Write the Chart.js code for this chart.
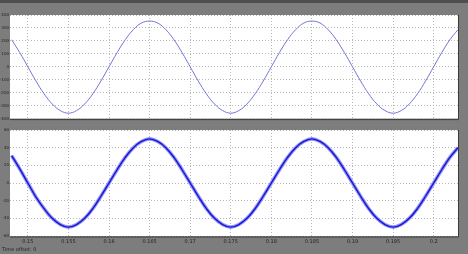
<!DOCTYPE html>
<html>
<head>
<meta charset="utf-8">
<script src="https://cdn.jsdelivr.net/npm/chart.js@4/dist/chart.umd.min.js"></script>
<style>
  html, body { margin: 0; padding: 0; background: #7d7d7d; width: 468px; height: 254px; overflow: hidden; }
  #topbar { position: absolute; left: 0; top: 0; width: 468px; height: 3px; background: #4e4e4e; }
  #c1 { position: absolute; left: 0; top: 0; }
  #c2 { position: absolute; left: 0; top: 122px; }
  #note { position: absolute; left: 2px; top: 246px; font: 5px "DejaVu Sans", sans-serif; color: #222; white-space: nowrap; }
</style>
</head>
<body>
<div id="topbar"></div>
<canvas id="c1" width="468" height="122"></canvas>
<canvas id="c2" width="468" height="132"></canvas>
<div id="note">Time offset: 0</div>
<script>
// time (s)
const times = [0.148,0.149,0.150,0.151,0.152,0.153,0.154,0.155,0.156,0.157,0.158,0.159,0.160,0.161,0.162,0.163,0.164,0.165,0.166,0.167,0.168,0.169,0.170,0.171,0.172,0.173,0.174,0.175,0.176,0.177,0.178,0.179,0.180,0.181,0.182,0.183,0.184,0.185,0.186,0.187,0.188,0.189,0.190,0.191,0.192,0.193,0.194,0.195,0.196,0.197,0.198,0.199,0.200,0.201,0.202,0.203];
// upper trace (voltage)
const voltage = [209,110,0,-110,-209,-287,-338,-358,-338,-287,-209,-110,0,110,209,287,338,353,338,287,209,110,0,-110,-209,-287,-338,-358,-338,-287,-209,-110,0,110,209,287,338,353,338,287,209,110,0,-110,-209,-287,-338,-358,-338,-287,-209,-110,0,110,209,287];
// lower trace (current)
const current = [31,16,0,-16,-29,-40,-47,-50,-47,-40,-29,-15,0,15,29,40,47,50,47,40,29,15,0,-15,-29,-40,-47,-50,-47,-40,-29,-15,0,15,29,40,47,50,47,40,29,15,0,-15,-29,-40,-47,-50,-47,-40,-29,-15,0,15,29,40];
// ticks
const xTicks = [0.15,0.155,0.16,0.165,0.17,0.175,0.18,0.185,0.19,0.195,0.2];
const xTickLabels = ['0.15','0.155','0.16','0.165','0.17','0.175','0.18','0.185','0.19','0.195','0.2'];
const yTicksTop = [-400,-300,-200,-100,0,100,200,300,400];
const yTicksBottom = [-60,-40,-20,0,20,40,60];

const xMin = 0.1478, xMax = 0.2030;

const plotBg = {
  id: 'plotBg',
  beforeDraw(chart) {
    const {ctx, chartArea: a} = chart;
    ctx.save();
    ctx.fillStyle = '#ffffff';
    ctx.fillRect(a.left, a.top, a.right - a.left, a.bottom - a.top);
    ctx.restore();
  },
  afterDraw(chart) {
    const {ctx, chartArea: a} = chart;
    ctx.save();
    ctx.strokeStyle = '#3c3c3c';
    ctx.lineWidth = 1;
    ctx.beginPath();
    ctx.moveTo(a.right + 0.5, a.top);
    ctx.lineTo(a.right + 0.5, a.bottom + 1);
    ctx.lineTo(a.left, a.bottom + 1);
    ctx.stroke();
    ctx.restore();
  }
};

function pts(ys) { return times.map((t, i) => ({x: t, y: ys[i]})); }

function makeOpts(yTicks, ymin, ymax, showX, padTop, padBottom) {
  return {
    responsive: false,
    animation: false,
    events: [],
    layout: { padding: { left: 0, right: 10, top: padTop, bottom: padBottom } },
    plugins: { legend: { display: false }, tooltip: { enabled: false } },
    elements: { point: { radius: 0 } },
    scales: {
      x: {
        type: 'linear', min: xMin, max: xMax,
        afterBuildTicks: ax => { ax.ticks = xTicks.map(v => ({value: v})); },
        afterFit: ax => { ax.height = showX ? 18 : 0; },
        grid: { color: '#b8b8b8', lineWidth: 1, drawTicks: false },
        border: { display: false, dash: [1, 2] },
        ticks: {
          display: showX, padding: 3, maxRotation: 0, autoSkip: false,
          font: { size: 5, family: 'DejaVu Sans' }, color: '#222',
          callback: (v, i) => xTickLabels[i]
        }
      },
      y: {
        min: ymin, max: ymax,
        afterBuildTicks: ax => { ax.ticks = yTicks.map(v => ({value: v})); },
        afterFit: ax => { ax.width = 10; },
        grid: { color: '#b8b8b8', lineWidth: 1, drawTicks: false },
        border: { display: false, dash: [1, 2] },
        ticks: {
          padding: 1, autoSkip: false,
          font: { size: 4, family: 'DejaVu Sans' }, color: '#222'
        }
      }
    }
  };
}

const o1 = makeOpts(yTicksTop, -400, 400, false, 15, 3);
new Chart(document.getElementById('c1'), {
  type: 'line',
  data: { datasets: [{ data: pts(voltage), borderColor: '#7474d8', borderWidth: 1, tension: 0.4, fill: false }] },
  options: o1,
  plugins: [plotBg]
});

const o2 = makeOpts(yTicksBottom, -60, 60, true, 8, 0);
new Chart(document.getElementById('c2'), {
  type: 'line',
  data: { datasets: [
    { data: pts(current), borderColor: '#1616cc', borderWidth: 1.4, tension: 0.4, fill: false, order: 0 },
    { data: pts(current), borderColor: 'rgba(120,120,255,0.8)', borderWidth: 3.6, tension: 0.4, fill: false, order: 1 }
  ] },
  options: o2,
  plugins: [plotBg]
});
</script>
</body>
</html>
